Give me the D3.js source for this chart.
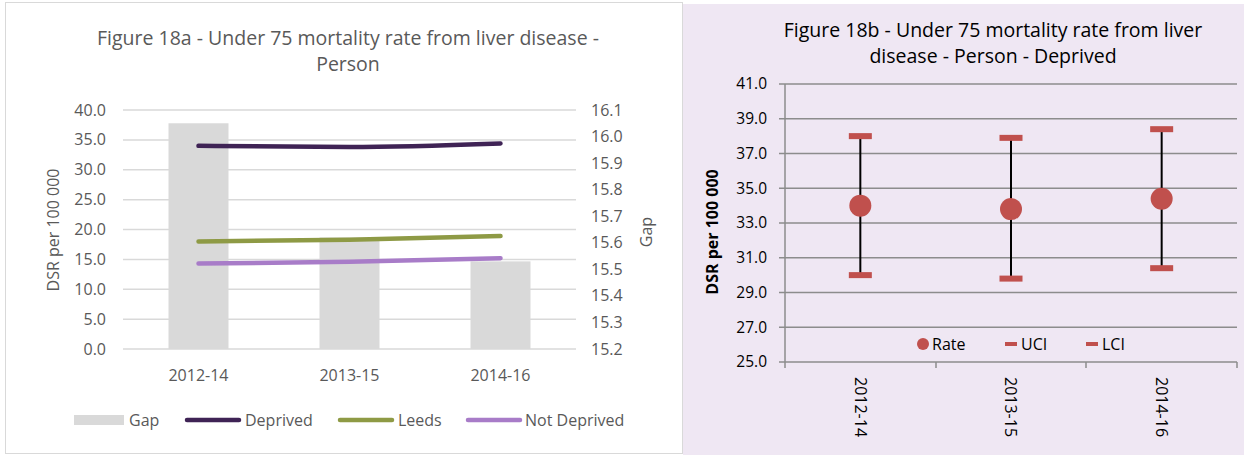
<!DOCTYPE html>
<html>
<head>
<meta charset="utf-8">
<style>
  body { margin: 0; background: #fff; }
  text { font-family: "Open Sans", sans-serif; }
</style>
</head>
<body>
<div id="chart"></div>
<script src="https://cdn.jsdelivr.net/npm/d3@7"></script>
<script>
    // data
    const periods = ["2012-14", "2013-15", "2014-16"];
    const gap = [16.05, 15.62, 15.53];
    const deprived = [34.0, 33.8, 34.4];
    const leeds = [18.0, 18.3, 18.9];
    const notDeprived = [14.3, 14.6, 15.2];
    const rate = [34.0, 33.8, 34.4];
    const uci = [38.0, 37.9, 38.4];
    const lci = [30.0, 29.8, 30.4];
    const leftTicks = [0, 5, 10, 15, 20, 25, 30, 35, 40];
    const gapTicks = [15.2, 15.3, 15.4, 15.5, 15.6, 15.7, 15.8, 15.9, 16.0, 16.1];
    const rightTicks = [25, 27, 29, 31, 33, 35, 37, 39, 41];

    const svg = d3.select("#chart").append("svg")
        .attr("width", 1244)
        .attr("height", 455);

    // panels
    svg.append("rect")
        .attr("x", 5.5).attr("y", 2.5).attr("width", 677).attr("height", 451)
        .attr("fill", "#fff").attr("stroke", "#d9d9d9");
    svg.append("rect")
        .attr("x", 683).attr("y", 4).attr("width", 561).attr("height", 451)
        .attr("fill", "#efe7f3");

    // ---------- Figure 18a ----------
    const grey = "#595959";
    const fs = 16;
    const xA = d3.scaleBand().domain(periods).range([123, 576]);
    const yA = d3.scaleLinear().domain([0, 40]).range([349, 110]);
    const yG = d3.scaleLinear().domain([15.2, 16.1]).range([349, 110]);
    const a = svg.append("g");

    a.selectAll(".grid").data(leftTicks).join("line")
        .attr("x1", 123).attr("x2", 576)
        .attr("y1", d => yA(d)).attr("y2", d => yA(d))
        .attr("stroke", "#d9d9d9").attr("stroke-width", 1.5);

    a.selectAll(".bar").data(gap).join("rect")
        .attr("x", (d, i) => xA(periods[i]) + xA.bandwidth() / 2 - 30)
        .attr("width", 60)
        .attr("y", d => yG(d))
        .attr("height", d => yG(15.2) - yG(d))
        .attr("fill", "#d9d9d9");

    const lineA = d3.line()
        .x((d, i) => xA(periods[i]) + xA.bandwidth() / 2)
        .y(d => yA(d))
        .curve(d3.curveMonotoneX);

    const series = [
        { name: "Deprived", values: deprived, color: "#3f2355" },
        { name: "Leeds", values: leeds, color: "#8e9a45" },
        { name: "Not Deprived", values: notDeprived, color: "#a87cc8" }
    ];
    series.forEach(s => {
        a.append("path")
            .attr("d", lineA(s.values))
            .attr("fill", "none")
            .attr("stroke", s.color)
            .attr("stroke-width", 4.5)
            .attr("stroke-linecap", "round");
    });

    a.selectAll(".lt").data(leftTicks).join("text")
        .attr("x", 106).attr("y", d => yA(d)).attr("dy", "0.35em")
        .attr("text-anchor", "end").attr("fill", grey).attr("font-size", fs)
        .text(d => d.toFixed(1));
    a.selectAll(".rt").data(gapTicks).join("text")
        .attr("x", 591).attr("y", d => yG(d)).attr("dy", "0.35em")
        .attr("fill", grey).attr("font-size", fs)
        .text(d => d.toFixed(1));
    a.selectAll(".xt").data(periods).join("text")
        .attr("x", d => xA(d) + xA.bandwidth() / 2).attr("y", 375).attr("dy", "0.35em")
        .attr("text-anchor", "middle").attr("fill", grey).attr("font-size", fs)
        .text(d => d);

    a.append("text")
        .attr("transform", "translate(53,230) rotate(-90)")
        .attr("text-anchor", "middle").attr("dy", "0.35em").attr("fill", grey).attr("font-size", fs)
        .text("DSR per 100 000");
    a.append("text")
        .attr("transform", "translate(646,232) rotate(-90)")
        .attr("text-anchor", "middle").attr("dy", "0.35em").attr("fill", grey).attr("font-size", fs)
        .text("Gap");

    a.append("text").attr("x", 348).attr("y", 45)
        .attr("text-anchor", "middle").attr("fill", grey).attr("font-size", 19.5)
        .text("Figure 18a - Under 75 mortality rate from liver disease -");
    a.append("text").attr("x", 348).attr("y", 71)
        .attr("text-anchor", "middle").attr("fill", grey).attr("font-size", 19.5)
        .text("Person");

    // legend
    const legA = a.append("g");
    legA.append("rect").attr("x", 74).attr("y", 415).attr("width", 50).attr("height", 10).attr("fill", "#d9d9d9");
    legA.append("text").attr("x", 129).attr("y", 420).attr("dy", "0.35em").attr("fill", grey).attr("font-size", fs).text("Gap");
    const legX = [[187, 239, 245], [340, 392, 398], [468, 520, 525]];
    series.forEach((s, i) => {
        legA.append("line")
            .attr("x1", legX[i][0]).attr("x2", legX[i][1]).attr("y1", 420).attr("y2", 420)
            .attr("stroke", s.color).attr("stroke-width", 4.5).attr("stroke-linecap", "round");
        legA.append("text").attr("x", legX[i][2]).attr("y", 420).attr("dy", "0.35em")
            .attr("fill", grey).attr("font-size", fs).text(s.name);
    });

    // ---------- Figure 18b ----------
    const red = "#c0504d";
    const fb = 16;
    const xB = d3.scaleBand().domain(periods).range([785, 1237]);
    const yB = d3.scaleLinear().domain([25, 41]).range([362, 84]);
    const b = svg.append("g");

    b.selectAll(".grid").data(rightTicks).join("line")
        .attr("x1", 779).attr("x2", 1237)
        .attr("y1", d => yB(d)).attr("y2", d => yB(d))
        .attr("stroke", "#8c8c8c").attr("stroke-width", 1.5);
    b.append("line").attr("x1", 785).attr("x2", 785).attr("y1", yB(41)).attr("y2", yB(25))
        .attr("stroke", "#8c8c8c").attr("stroke-width", 1.5);
    b.selectAll(".xtick").data([785, 936, 1086, 1237]).join("line")
        .attr("x1", d => d).attr("x2", d => d).attr("y1", 362).attr("y2", 368)
        .attr("stroke", "#8c8c8c").attr("stroke-width", 1.5);

    b.selectAll(".lt").data(rightTicks).join("text")
        .attr("x", 767).attr("y", d => yB(d)).attr("dy", "0.35em")
        .attr("text-anchor", "end").attr("fill", "#000").attr("font-size", 15.5)
        .text(d => d.toFixed(1));
    b.selectAll(".xt").data(periods).join("text")
        .attr("transform", d => `translate(${xB(d) + xB.bandwidth() / 2},377) rotate(90)`)
        .attr("dy", "0.35em").attr("fill", "#000").attr("font-size", fb)
        .text(d => d);
    b.append("text")
        .attr("transform", "translate(712,232) rotate(-90)")
        .attr("text-anchor", "middle").attr("dy", "0.35em")
        .attr("fill", "#000").attr("font-size", 16).attr("font-weight", "bold")
        .text("DSR per 100 000");

    b.append("text").attr("x", 993).attr("y", 37)
        .attr("text-anchor", "middle").attr("fill", "#000").attr("font-size", 19.5)
        .text("Figure 18b - Under 75 mortality rate from liver");
    b.append("text").attr("x", 993).attr("y", 63)
        .attr("text-anchor", "middle").attr("fill", "#000").attr("font-size", 19.5)
        .text("disease - Person - Deprived");

    const cx = i => xB(periods[i]) + xB.bandwidth() / 2;
    b.selectAll(".err").data(periods).join("line")
        .attr("x1", (d, i) => cx(i)).attr("x2", (d, i) => cx(i))
        .attr("y1", (d, i) => yB(uci[i])).attr("y2", (d, i) => yB(lci[i]))
        .attr("stroke", "#000").attr("stroke-width", 2);
    b.selectAll(".uci").data(uci).join("rect")
        .attr("x", (d, i) => cx(i) - 11.5).attr("y", d => yB(d) - 3)
        .attr("width", 23).attr("height", 6).attr("fill", red);
    b.selectAll(".lci").data(lci).join("rect")
        .attr("x", (d, i) => cx(i) - 11.5).attr("y", d => yB(d) - 3)
        .attr("width", 23).attr("height", 6).attr("fill", red);
    b.selectAll(".rate").data(rate).join("circle")
        .attr("cx", (d, i) => cx(i)).attr("cy", d => yB(d))
        .attr("r", 11).attr("fill", red);

    // legend
    const legB = b.append("g");
    legB.append("circle").attr("cx", 923).attr("cy", 344).attr("r", 6).attr("fill", red);
    legB.append("text").attr("x", 932).attr("y", 344).attr("dy", "0.35em").attr("font-size", fb).text("Rate");
    legB.append("rect").attr("x", 1005).attr("y", 342).attr("width", 12).attr("height", 4).attr("fill", red);
    legB.append("text").attr("x", 1021).attr("y", 344).attr("dy", "0.35em").attr("font-size", fb).text("UCI");
    legB.append("rect").attr("x", 1086).attr("y", 342).attr("width", 12).attr("height", 4).attr("fill", red);
    legB.append("text").attr("x", 1102).attr("y", 344).attr("dy", "0.35em").attr("font-size", fb).text("LCI");
</script>
</body>
</html>
